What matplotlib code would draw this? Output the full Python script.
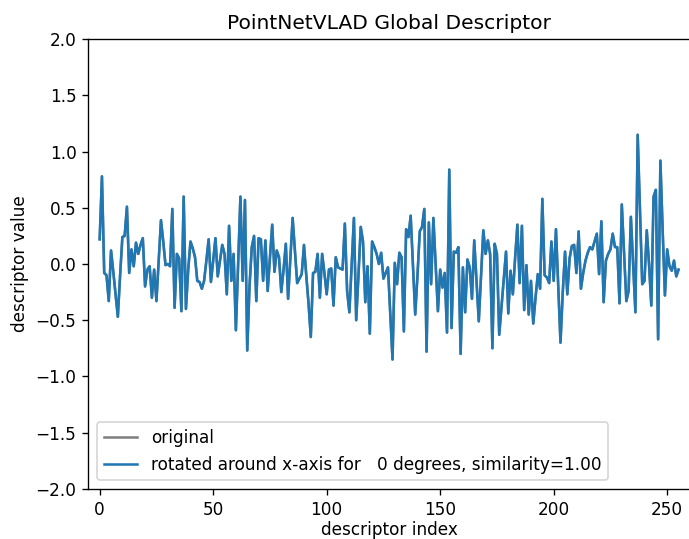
import numpy as np
import matplotlib
matplotlib.use("Agg")
import matplotlib.pyplot as plt

# PointNetVLAD global descriptor values (256 dims)
descriptor = [
    0.22, 0.78, -0.08, -0.10, -0.33, 0.12, -0.07, -0.27, -0.47, -0.10,
    0.24, 0.25, 0.51, -0.08, 0.13, -0.02, 0.19, 0.09, 0.17, 0.23,
    -0.20, -0.05, -0.02, -0.30, -0.05, -0.33, 0.03, 0.39, 0.20, -0.01,
    0.00, -0.02, 0.49, -0.39, 0.09, 0.05, -0.42, 0.60, -0.40, -0.05,
    0.20, 0.14, 0.06, -0.15, -0.16, -0.22, -0.15, 0.03, 0.22, -0.16,
    0.03, 0.23, -0.11, 0.03, 0.17, 0.09, -0.27, 0.34, -0.15, 0.09,
    -0.59, 0.00, 0.60, -0.15, 0.57, -0.77, -0.20, 0.15, 0.25, -0.33,
    0.23, 0.22, -0.15, 0.21, -0.24, 0.05, 0.35, -0.07, 0.12, 0.06,
    -0.25, -0.05, 0.18, -0.31, 0.05, 0.41, 0.12, -0.17, -0.13, -0.09,
    0.17, -0.10, -0.35, -0.65, -0.08, -0.07, 0.09, -0.30, 0.09, -0.08,
    -0.27, -0.05, -0.04, -0.37, 0.06, -0.03, -0.04, -0.05, 0.36, -0.24,
    -0.43, 0.00, 0.41, -0.50, -0.10, 0.33, 0.20, -0.34, -0.02, -0.62,
    0.20, 0.15, 0.09, 0.00, 0.10, -0.13, -0.08, -0.03, -0.45, -0.85,
    0.01, -0.18, 0.10, 0.06, -0.60, 0.31, 0.24, 0.43, 0.00, -0.45,
    -0.10, 0.29, 0.33, 0.49, -0.78, 0.37, -0.18, 0.41, 0.00, -0.42,
    -0.05, -0.21, -0.08, -0.61, 0.84, -0.57, 0.11, 0.10, 0.15, -0.80,
    -0.03, -0.43, 0.04, -0.03, -0.31, 0.21, -0.15, -0.51, -0.10, 0.30,
    0.09, 0.21, 0.09, -0.75, 0.18, 0.09, -0.63, -0.38, -0.12, 0.11,
    -0.44, -0.06, -0.27, 0.05, 0.35, -0.17, 0.34, -0.41, -0.01, -0.45,
    -0.15, -0.53, -0.30, -0.09, -0.22, 0.58, -0.10, -0.12, -0.17, 0.20,
    -0.15, 0.31, -0.20, -0.70, -0.25, 0.11, -0.27, 0.05, 0.16, 0.17,
    -0.08, 0.29, -0.22, -0.08, 0.03, 0.10, 0.15, 0.13, 0.20, 0.27,
    -0.09, 0.38, -0.34, 0.03, 0.09, 0.13, 0.27, 0.15, 0.15, -0.35,
    0.53, 0.10, -0.33, -0.24, 0.42, 0.00, -0.43, 1.15, 0.50, -0.18,
    -0.15, 0.30, 0.00, -0.37, 0.60, 0.66, -0.67, 0.92, 0.30, -0.28,
    0.13, -0.02, -0.06, 0.03, -0.11, -0.05,
]
# rotation by 0 degrees leaves the descriptor unchanged
rotated = list(descriptor)
angle = 0
similarity = 1.00

index = np.arange(len(descriptor))

DPI = 121.6
fig = plt.figure(figsize=(689 / DPI, 539 / DPI), dpi=DPI)
# the right spine sits just past the image edge, as in the reference
ax = fig.add_axes([0.1282, 0.0933, 0.8731, 0.8338])

ax.plot(index, descriptor, color="gray", label="original")
ax.plot(index, rotated, color="#1f77b4",
        label=f"rotated around x-axis for {angle:3d} degrees, similarity={similarity:.2f}")

ax.set_xlim(-5, 260)
ax.set_ylim(-2, 2)
ax.set_title("PointNetVLAD Global Descriptor")
ax.set_xlabel("descriptor index", labelpad=1.5)
ax.set_ylabel("descriptor value")
ax.legend(loc="lower left")

fig.savefig("out.png", dpi=DPI)
